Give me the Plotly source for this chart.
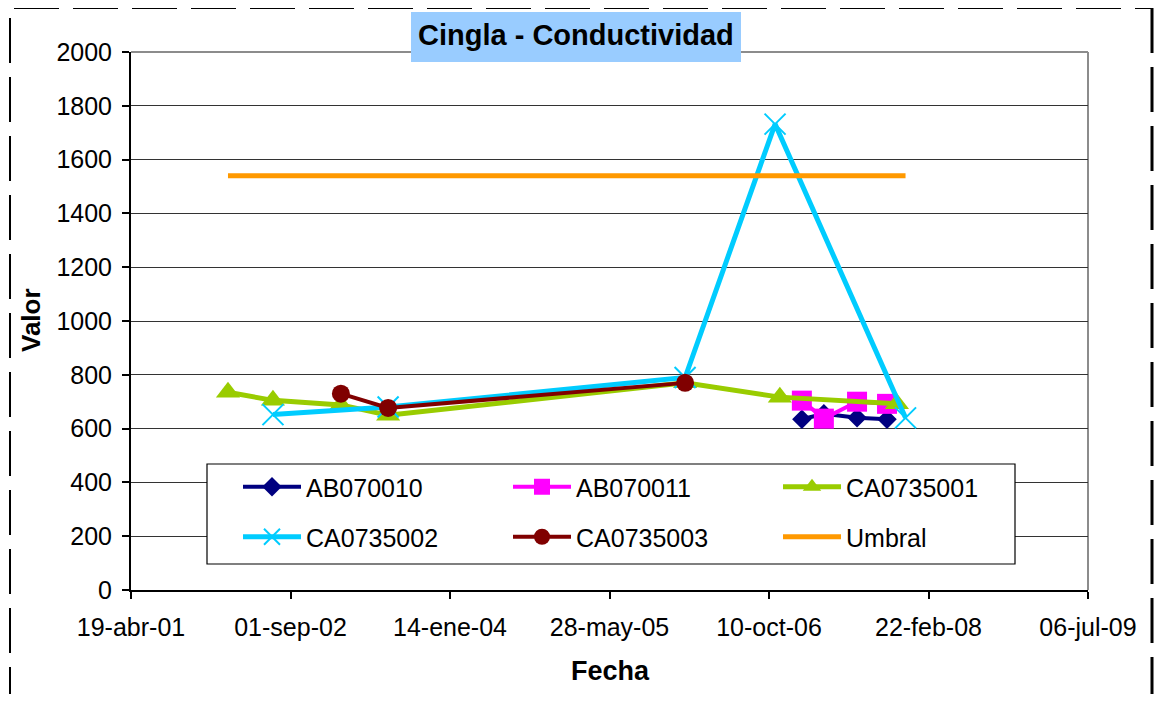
import plotly.graph_objects as go

# ---- data ----
x_tickvals = ["2001-04-19", "2002-09-01", "2004-01-14", "2005-05-28",
              "2006-10-10", "2008-02-22", "2009-07-06"]
x_ticktext = ["19-abr-01", "01-sep-02", "14-ene-04", "28-may-05",
              "10-oct-06", "22-feb-08", "06-jul-09"]
y_tickvals = [0, 200, 400, 600, 800, 1000, 1200, 1400, 1600, 1800, 2000]

ab070010_dates = ["2007-01-21", "2007-03-31", "2007-07-13", "2007-10-15"]
ab070010_vals = [635, 655, 640, 635]

ab070011_dates = ["2007-01-21", "2007-03-31", "2007-07-13", "2007-10-15"]
ab070011_vals = [704, 637, 700, 692]

ca0735001_dates = ["2002-02-17", "2002-07-08", "2003-02-06", "2003-07-04",
                   "2006-01-20", "2006-11-13", "2007-11-15"]
ca0735001_vals = [735, 705, 688, 650, 770, 717, 692]

ca0735002_dates = ["2002-07-08", "2003-07-04", "2006-01-20", "2006-10-29", "2007-12-12"]
ca0735002_vals = [652, 680, 790, 1732, 640]

ca0735003_dates = ["2003-02-06", "2003-07-04", "2006-01-20"]
ca0735003_vals = [730, 677, 770]

umbral_dates = ["2002-02-17", "2007-12-12"]
umbral_vals = [1540, 1540]

# ---- geometry (page body has an 8px margin; keep the figure inside the
#      viewport so no scrollbars appear) ----
OFF = 8
W, H = 1162 - 2 * OFF, 706 - 2 * OFF - 4
L, R, T, B = 131 - OFF, 1088 - OFF, 52 - OFF, 590 - OFF


def px(xp):
    return (xp - OFF - L) / (R - L)


def py(yp):
    return (B - (yp - OFF)) / (B - T)


FONT = "Liberation Sans, Arial, sans-serif"

fig = go.Figure()

fig.add_trace(go.Scatter(
    x=ab070010_dates, y=ab070010_vals, name="AB070010", mode="lines+markers",
    line=dict(color="#000080", width=4),
    marker=dict(symbol="diamond", size=15, color="#000080"),
    legend="legend"))
fig.add_trace(go.Scatter(
    x=ab070011_dates, y=ab070011_vals, name="AB070011", mode="lines+markers",
    line=dict(color="#FF00FF", width=4),
    marker=dict(symbol="square", size=20, color="#FF00FF"),
    legend="legend"))
fig.add_trace(go.Scatter(
    x=ca0735001_dates, y=ca0735001_vals, name="CA0735001", mode="lines+markers",
    line=dict(color="#99CC00", width=5),
    marker=dict(symbol="triangle-up", size=21, color="#99CC00"),
    legend="legend"))
fig.add_trace(go.Scatter(
    x=ca0735002_dates, y=ca0735002_vals, name="CA0735002", mode="lines+markers",
    line=dict(color="#00CCFF", width=5),
    marker=dict(symbol="x-thin", size=21, color="#00CCFF",
                line=dict(color="#00CCFF", width=2)),
    legend="legend2"))
fig.add_trace(go.Scatter(
    x=ca0735003_dates, y=ca0735003_vals, name="CA0735003", mode="lines+markers",
    line=dict(color="#800000", width=4),
    marker=dict(symbol="circle", size=18, color="#800000"),
    legend="legend2"))
fig.add_trace(go.Scatter(
    x=umbral_dates, y=umbral_vals, name="Umbral", mode="lines",
    line=dict(color="#FF9900", width=5),
    legend="legend2"))

legend_common = dict(
    orientation="h", xanchor="left", yanchor="middle",
    font=dict(family=FONT, size=25, color="black"),
    bgcolor="rgba(0,0,0,0)", borderwidth=0,
    entrywidth=197, entrywidthmode="pixels", itemwidth=58,
)

fig.update_layout(
    width=W, height=H,
    margin=dict(l=L, r=W - R, t=T, b=H - B, pad=0),
    paper_bgcolor="white", plot_bgcolor="white",
    font=dict(family=FONT, size=25, color="black"),
    showlegend=True,
    legend=dict(x=px(238), y=py(487), **legend_common),
    legend2=dict(x=px(238), y=py(537), **legend_common),
    xaxis=dict(
        type="date", range=[x_tickvals[0], x_tickvals[-1]],
        tickmode="array", tickvals=x_tickvals, ticktext=x_ticktext,
        showgrid=False, zeroline=False,
        showline=True, linecolor="black", linewidth=2,
        ticks="outside", ticklen=7, tickwidth=1.5, tickcolor="black",
        ticklabelstandoff=7,
        tickfont=dict(family=FONT, size=25, color="black"),
    ),
    yaxis=dict(
        range=[0, 2000], tickmode="array", tickvals=y_tickvals,
        showgrid=True, gridcolor="#333333", gridwidth=1,
        zeroline=False,
        showline=True, linecolor="black", linewidth=2,
        ticks="outside", ticklen=7, tickwidth=1.5, tickcolor="black",
        ticklabelstandoff=5,
        tickfont=dict(family=FONT, size=25, color="black"),
    ),
    shapes=[
        # plot area border (top & right, gray)
        dict(type="line", xref="paper", yref="paper", x0=0, x1=1, y0=1, y1=1,
             line=dict(color="#8c8c8c", width=2), layer="below"),
        dict(type="line", xref="paper", yref="paper", x0=1, x1=1, y0=0, y1=1,
             line=dict(color="#8c8c8c", width=2), layer="below"),
        # legend box
        dict(type="rect", xref="paper", yref="paper",
             x0=px(207), x1=px(1015), y0=py(564), y1=py(464),
             line=dict(color="black", width=1.2), fillcolor="white", layer="above"),
        # title box
        dict(type="rect", xref="paper", yref="paper",
             x0=px(411), x1=px(741), y0=py(62), y1=py(12),
             line=dict(width=0), fillcolor="#99CCFF", layer="above"),
        # outer dashed chart border: left + top
        dict(type="path", xref="paper", yref="paper",
             path="M {x0},{y0} L {x0},{y1} L {x1},{y1}".format(
                 x0=px(10), y0=py(712), y1=py(8), x1=px(1152)),
             line=dict(color="black", width=2, dash="45px,14px"),
             layer="above"),
        # outer dashed chart border: right side
        dict(type="line", xref="paper", yref="paper",
             x0=px(1152), x1=px(1152), y0=py(8), y1=py(712),
             line=dict(color="black", width=3, dash="45px,14px"),
             layer="above"),
    ],
    annotations=[
        dict(text="<b>Cingla - Conductividad</b>", xref="paper", yref="paper",
             x=px(576), y=py(35), xanchor="center", yanchor="middle",
             showarrow=False, font=dict(family=FONT, size=29, color="black")),
        dict(text="<b>Valor</b>", xref="paper", yref="paper",
             x=px(31), y=py(320), xanchor="center", yanchor="middle",
             textangle=-90, showarrow=False,
             font=dict(family=FONT, size=26, color="black")),
        dict(text="<b>Fecha</b>", xref="paper", yref="paper",
             x=px(610), y=py(671), xanchor="center", yanchor="middle",
             showarrow=False, font=dict(family=FONT, size=27, color="black")),
    ],
)

fig.write_html("out.html")
